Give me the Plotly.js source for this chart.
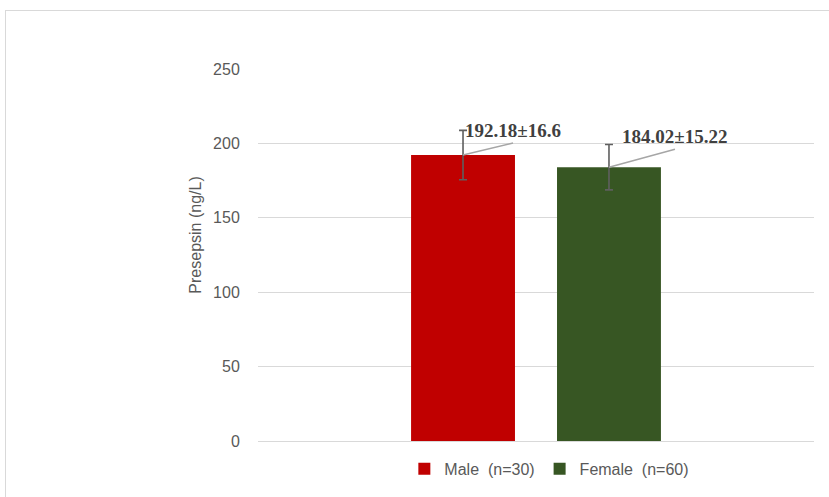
<!DOCTYPE html>
<html>
<head>
<meta charset="utf-8">
<script src="https://cdn.plot.ly/plotly-3.0.1.min.js"></script>
<style>
  html, body { margin: 0; padding: 0; background: #fff; overflow: hidden; }
  #wrap { position: relative; width: 829px; height: 497px; }
  #chart { position: absolute; left: 0; top: 0; width: 829px; height: 497px; }
  #frame { position: absolute; left: 5px; top: 10px; width: 840px; height: 500px;
           border-top: 1px solid #d9d9d9; border-left: 1px solid #d9d9d9; pointer-events: none; }
</style>
</head>
<body>
<div id="wrap">
  <div id="chart"></div>
  <div id="frame"></div>
</div>
<script>
// ---- data ----
const categories = ['Presepsin'];
const seriesNames = ['Male\u00a0\u00a0(n=30)', 'Female\u00a0\u00a0(n=60)'];
const maleMean = [192.18];
const maleSD = [16.6];
const femaleMean = [184.02];
const femaleSD = [15.22];
const valueLabels = ['192.18±16.6', '184.02±15.22'];
const yTickVals = [0, 50, 100, 150, 200, 250];
const yTitle = 'Presepsin (ng/L)';

// ---- style ----
const colors = ['#C00000', '#375623'];
const bargap = 0.475;
const bargroupgap = 0.288;
const txtColor = '#595959';
const font = 'Liberation Sans, Arial, sans-serif';

const errStyle = { type: 'data', visible: true, color: '#5f5f5f', thickness: 1.6, width: 4 };

const traces = [
  { type: 'bar', name: seriesNames[0], x: categories, y: maleMean,
    marker: { color: colors[0] }, error_y: Object.assign({ array: maleSD }, errStyle), hoverinfo: 'skip' },
  { type: 'bar', name: seriesNames[1], x: categories, y: femaleMean,
    marker: { color: colors[1] }, error_y: Object.assign({ array: femaleSD }, errStyle), hoverinfo: 'skip' }
];

// bar centre offsets in category units (grouped bars)
const slot = (1 - bargap) / 2;
const offsets = [-slot / 2, slot / 2];
const means = [maleMean[0], femaleMean[0]];
const arrowOff = [[50, -12], [66, -18]];

const annotations = valueLabels.map((t, i) => ({
  x: offsets[i], y: means[i], xref: 'x', yref: 'y',
  text: '<b>' + t + '</b>',
  showarrow: true, arrowhead: 0, arrowwidth: 1.5, arrowcolor: '#a6a6a6',
  ax: arrowOff[i][0], ay: arrowOff[i][1],
  xanchor: 'center', yanchor: 'bottom',
  font: { family: 'Liberation Serif, Times New Roman, serif', size: 19, color: '#404040' }
}));

annotations.push({
  xref: 'paper', yref: 'paper', x: -0.1115, y: 0.552,
  xanchor: 'center', yanchor: 'middle', textangle: -90, showarrow: false,
  text: yTitle, font: { family: font, size: 16, color: txtColor }
});

const layout = {
  width: 829, height: 497,
  margin: { l: 258, r: 15, t: 69, b: 55, pad: 0 },
  paper_bgcolor: '#ffffff', plot_bgcolor: '#ffffff',
  barmode: 'group', bargap: bargap, bargroupgap: bargroupgap,
  showlegend: true,
  legend: { orientation: 'h', x: 0.524, xanchor: 'center', y: -0.072, yanchor: 'middle',
            font: { family: font, size: 16, color: txtColor }, bgcolor: 'rgba(0,0,0,0)' },
  xaxis: { type: 'category', range: [-0.5, 0.5], showticklabels: false, showgrid: false,
           showline: false, zeroline: false, ticks: '', fixedrange: true },
  yaxis: { range: [0, 250], tickvals: yTickVals, ticktext: yTickVals.map(String),
           showgrid: true, gridcolor: '#d9d9d9', gridwidth: 1,
           zeroline: true, zerolinecolor: '#d9d9d9', zerolinewidth: 1,
           showline: false, ticks: 'outside', ticklen: 14, tickcolor: 'rgba(0,0,0,0)',
           tickfont: { family: font, size: 16, color: txtColor }, fixedrange: true },
  annotations: annotations,
  font: { family: font, color: txtColor }
};

Plotly.newPlot('chart', traces, layout, { displayModeBar: false, staticPlot: true });
</script>
</body>
</html>
